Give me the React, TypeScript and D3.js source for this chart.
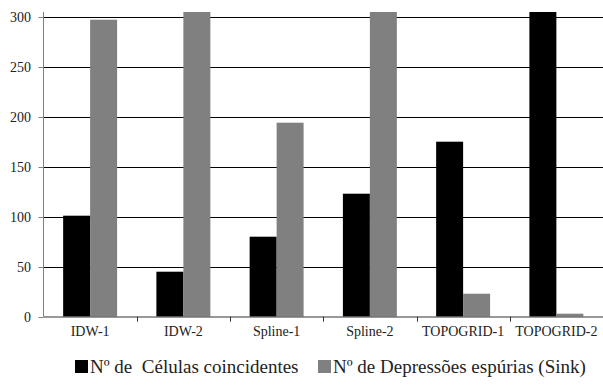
import React from "react";
import * as d3 from "d3";

const categories = ["IDW-1", "IDW-2", "Spline-1", "Spline-2", "TOPOGRID-1", "TOPOGRID-2"];
const celulas = [101, 45, 80, 123, 175, 305];
const depressoes = [297, 305, 194, 305, 23, 3];
const yTicks = [0, 50, 100, 150, 200, 250, 300];
const seriesNames = ["Nº de  Células coincidentes", "Nº de Depressões espúrias (Sink)"];
const seriesColors = ["#000000", "#808080"];

const W = 603;
const H = 385;
const left = 43.5;
const right = 603;
const top = 12;
const bottom = 316.7;

const fontFamily = '"Liberation Serif", "Times New Roman", serif';

export default function App() {
  const x = d3.scaleBand<string>().domain(categories).range([left, right]).padding(0);
  const inner = d3
    .scaleBand<number>()
    .domain([0, 1])
    .range([0, x.bandwidth()])
    .paddingInner(0)
    .paddingOuter(0.728);
  const y = d3.scaleLinear().domain([0, 304.7]).range([bottom, top]);
  const series = [celulas, depressoes];

  return (
    <svg width={W} height={H} style={{ position: "absolute", left: 0, top: 0, fontFamily }}>
      <rect x={0} y={0} width={W} height={H} fill="#fff" />
      <defs>
        <clipPath id="plot">
          <rect x={left} y={top} width={right - left} height={bottom - top} />
        </clipPath>
      </defs>
      {yTicks.slice(1).map((t) => (
        <line key={t} x1={left} x2={right} y1={Math.round(y(t)) + 0.5} y2={Math.round(y(t)) + 0.5} stroke="#000" strokeWidth={1} />
      ))}
      <g clipPath="url(#plot)">
        {series.map((vals, si) =>
          vals.map((v, i) => (
            <rect
              key={si + "-" + i}
              x={(x(categories[i]) as number) + (inner(si) as number)}
              y={y(v)}
              width={inner.bandwidth()}
              height={bottom - y(v)}
              fill={seriesColors[si]}
            />
          ))
        )}
      </g>
      <line x1={left} x2={left} y1={top} y2={bottom} stroke="#808080" strokeWidth={1} />
      <line x1={left} x2={right} y1={bottom + 0.3} y2={bottom + 0.3} stroke="#333" strokeWidth={1} />
      {yTicks.map((t) => (
        <g key={t}>
          <line x1={left - 5} x2={left} y1={Math.round(y(t)) + 0.5} y2={Math.round(y(t)) + 0.5} stroke="#808080" />
          <text x={31} y={y(t)} dy="0.35em" textAnchor="end" style={{ fontFamily, fontSize: 14 }} fill="#222">
            {t}
          </text>
        </g>
      ))}
      {categories.map((c, i) => (
        <g key={c}>
          {i > 0 && (
            <line
              x1={Math.round(x(c) as number) + 0.5}
              x2={Math.round(x(c) as number) + 0.5}
              y1={bottom}
              y2={bottom + 5}
              stroke="#333"
            />
          )}
          <text
            x={(x(c) as number) + x.bandwidth() / 2}
            y={336}
            textAnchor="middle"
            style={{ fontFamily, fontSize: 14 }}
            fill="#222"
          >
            {c}
          </text>
        </g>
      ))}
      <g>
        <rect x={75} y={360} width={13} height={13} fill={seriesColors[0]} />
        <text x={90} y={373} style={{ fontFamily, fontSize: 19, whiteSpace: "pre" }} fill="#222">
          {seriesNames[0]}
        </text>
        <rect x={318} y={360} width={13} height={13} fill={seriesColors[1]} />
        <text x={333} y={373} style={{ fontFamily, fontSize: 19, whiteSpace: "pre" }} fill="#222">
          {seriesNames[1]}
        </text>
      </g>
    </svg>
  );
}
